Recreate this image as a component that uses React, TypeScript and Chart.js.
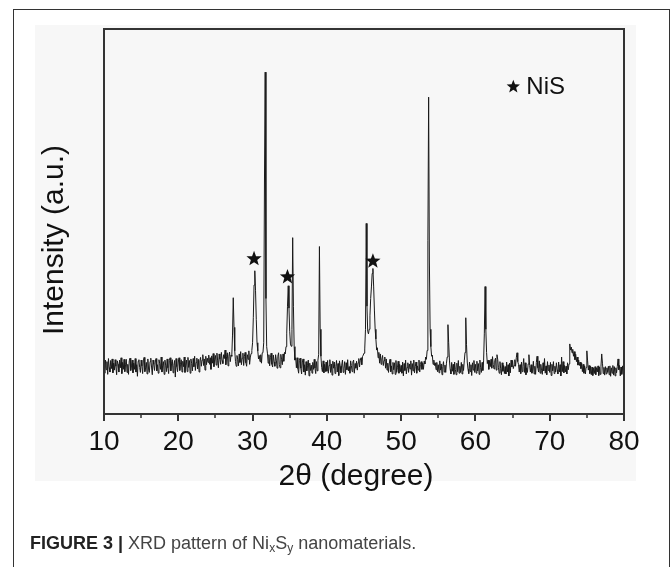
import React, { useEffect, useRef } from "react";
import { Chart, registerables } from "chart.js";

Chart.register(...registerables);

// ---- data ----
const ANGLE_START = 10; // degrees, first row
const ANGLE_STEP = 0.1; // degrees between readings in a row
// one row per degree (10.0–10.9, 11.0–11.9, ...), intensity in arbitrary units
const intensityRows: number[][] = [
  [12.6, 10.6, 14.0, 11.5, 13.6, 10.3, 14.4, 12.1, 10.9, 13.9], // 10
  [11.8, 14.3, 10.7, 13.2, 11.4, 14.1, 12.4, 10.2, 13.8, 12.9], // 11
  [10.9, 14.0, 12.0, 14.6, 10.5, 13.4, 11.6, 14.2, 11.0, 12.8], // 12
  [14.2, 10.8, 12.9, 10.3, 13.8, 14.5, 11.3, 12.5, 14.0, 10.7], // 13
  [13.2, 11.6, 14.4, 10.9, 12.8, 9.8, 13.7, 14.1, 12.1, 10.8], // 14
  [14.0, 12.5, 10.5, 13.8, 14.7, 11.0, 12.0, 13.4, 10.4, 14.3], // 15
  [11.7, 10.8, 13.6, 14.5, 12.2, 10.2, 14.0, 12.9, 11.3, 13.5], // 16
  [14.4, 11.2, 12.8, 10.6, 14.1, 13.1, 11.6, 14.8, 10.9, 12.6], // 17
  [13.6, 10.3, 14.0, 12.7, 11.0, 14.3, 12.0, 10.5, 13.9, 14.6], // 18
  [11.2, 13.2, 14.1, 10.7, 12.6, 13.9, 9.6, 14.4, 12.3, 11.0], // 19
  [13.5, 14.6, 11.3, 12.9, 14.1, 10.9, 13.7, 12.3, 14.8, 10.8], // 20
  [12.7, 14.0, 11.0, 14.7, 12.1, 13.9, 10.6, 14.3, 13.1, 11.2], // 21
  [14.4, 12.3, 15.0, 11.3, 13.4, 14.5, 11.7, 14.2, 10.9, 13.8], // 22
  [14.7, 12.4, 14.0, 15.4, 12.6, 14.3, 11.4, 15.0, 12.8, 14.5], // 23
  [13.4, 15.3, 12.9, 14.6, 11.6, 15.1, 13.2, 15.7, 12.3, 14.2], // 24
  [15.2, 12.7, 15.8, 13.8, 12.0, 15.6, 14.3, 12.9, 16.0, 13.9], // 25
  [13.1, 15.4, 14.4, 16.6, 12.8, 14.9, 15.9, 12.5, 15.0, 16.1], // 26
  [13.6, 15.3, 15.0, 20.5, 30.2, 22.5, 16.4, 13.6, 12.4, 15.2], // 27
  [14.2, 12.5, 15.6, 13.4, 16.2, 12.8, 14.5, 15.8, 12.6, 15.0], // 28
  [16.0, 13.3, 12.4, 15.4, 14.2, 16.4, 12.9, 14.8, 15.7, 16.5], // 29
  [18.5, 25.0, 33.5, 37.2, 32.0, 24.5, 18.5, 16.4, 14.3, 15.2], // 30
  [13.6, 15.4, 13.2, 15.9, 16.0, 18.5, 60.0, 88.8, 30.0, 17.5], // 31
  [15.8, 13.2, 15.4, 12.5, 14.6, 15.8, 12.9, 12.2, 15.3, 13.5], // 32
  [12.4, 15.4, 14.0, 11.9, 15.0, 15.9, 12.9, 12.0, 15.5, 14.2], // 33
  [12.8, 15.6, 13.7, 16.0, 15.6, 17.5, 21.0, 28.0, 33.3, 27.5], // 34
  [21.5, 18.2, 17.6, 22.0, 45.8, 28.0, 17.5, 14.0, 14.6, 12.0], // 35
  [14.6, 11.8, 10.6, 13.9, 14.5, 11.9, 10.4, 13.5, 14.3, 10.9], // 36
  [12.8, 10.1, 13.6, 11.2, 12.6, 14.0, 9.9, 13.2, 11.3, 12.7], // 37
  [10.6, 13.4, 11.6, 14.2, 11.9, 10.5, 13.6, 11.2, 14.0, 15.5], // 38
  [43.5, 22.0, 15.0, 12.1, 11.0, 13.8, 10.7, 12.9, 11.0, 13.5], // 39
  [11.1, 13.9, 10.6, 12.6, 14.1, 10.8, 13.0, 10.1, 13.7, 11.9], // 40
  [13.5, 10.5, 12.3, 13.9, 10.9, 13.1, 10.0, 13.8, 12.4, 10.7], // 41
  [12.7, 14.0, 10.8, 11.9, 13.6, 10.3, 13.3, 11.5, 14.1, 11.2], // 42
  [12.3, 10.6, 13.8, 12.6, 11.0, 13.5, 14.0, 10.6, 13.1, 11.9], // 43
  [13.7, 11.4, 13.3, 14.4, 12.2, 14.0, 14.6, 12.8, 14.9, 15.3], // 44
  [15.8, 16.9, 22.0, 49.5, 28.0, 21.5, 20.8, 22.0, 25.5, 30.0], // 45
  [33.0, 36.5, 37.8, 33.0, 27.0, 22.0, 19.5, 16.6, 17.2, 14.6], // 46
  [16.0, 13.2, 15.6, 12.9, 14.3, 15.2, 12.6, 13.9, 14.8, 11.9], // 47
  [14.3, 11.4, 13.2, 10.8, 13.0, 14.2, 11.0, 12.5, 10.4, 13.4], // 48
  [11.5, 13.3, 10.3, 13.9, 10.8, 12.0, 13.7, 10.6, 12.9, 11.0], // 49
  [12.6, 10.6, 13.5, 9.9, 13.1, 11.3, 14.0, 10.4, 12.1, 13.3], // 50
  [10.8, 13.0, 11.7, 13.8, 10.1, 13.1, 11.2, 14.0, 10.7, 12.3], // 51
  [13.5, 10.6, 12.5, 11.4, 14.0, 10.9, 12.9, 13.6, 11.6, 13.2], // 52
  [11.6, 13.7, 13.0, 14.8, 14.2, 16.5, 45.0, 82.3, 40.0, 22.0], // 53
  [17.5, 15.0, 15.3, 12.9, 14.0, 12.6, 13.3, 11.5, 13.4, 11.0], // 54
  [12.8, 10.7, 13.8, 11.4, 13.0, 10.2, 12.3, 13.6, 10.9, 12.7], // 55
  [10.8, 13.2, 14.8, 23.2, 18.5, 14.0, 11.6, 10.4, 13.4, 11.1], // 56
  [12.9, 10.3, 13.5, 11.6, 10.2, 13.2, 11.0, 13.9, 10.6, 12.4], // 57
  [10.8, 13.4, 10.4, 12.9, 11.3, 13.8, 16.0, 25.0, 18.0, 13.5], // 58
  [11.6, 10.5, 13.5, 11.0, 12.8, 10.0, 13.3, 11.4, 13.9, 10.8], // 59
  [12.9, 10.6, 13.7, 11.2, 13.1, 10.3, 14.0, 12.1, 10.8, 13.4], // 60
  [11.3, 13.8, 21.0, 33.1, 22.0, 16.0, 13.1, 14.0, 11.6, 13.9], // 61
  [12.3, 14.2, 11.9, 14.9, 12.8, 11.7, 13.9, 14.5, 11.4, 15.4], // 62
  [14.2, 12.0, 10.6, 13.6, 11.8, 10.2, 13.3, 11.1, 12.6, 10.5], // 63
  [12.3, 10.4, 13.5, 10.9, 12.8, 9.9, 13.2, 10.7, 14.0, 12.2], // 64
  [13.9, 11.8, 12.6, 14.1, 12.4, 14.6, 15.9, 13.6, 12.9, 10.9], // 65
  [12.8, 10.5, 13.5, 11.0, 12.4, 14.4, 10.8, 13.3, 10.2, 12.0], // 66
  [10.8, 13.0, 15.4, 12.6, 10.9, 12.8, 10.6, 11.4, 13.7, 10.4], // 67
  [12.4, 10.3, 13.4, 15.0, 12.0, 10.9, 13.8, 10.6, 12.9, 11.3], // 68
  [10.3, 13.3, 11.2, 14.4, 10.6, 12.5, 10.2, 13.6, 11.3, 12.7], // 69
  [10.8, 13.4, 10.0, 12.9, 11.2, 13.6, 10.5, 12.4, 10.9, 13.3], // 70
  [11.5, 10.4, 13.5, 10.9, 12.8, 9.9, 14.8, 11.0, 13.6, 10.7], // 71
  [12.6, 10.9, 12.4, 10.4, 13.3, 11.5, 13.0, 18.2, 16.6, 17.4], // 72
  [15.9, 16.8, 15.0, 16.2, 14.1, 15.5, 13.6, 14.8, 12.7, 14.0], // 73
  [12.6, 13.5, 11.8, 13.2, 11.0, 12.9, 10.6, 12.5, 10.4, 12.1], // 74
  [16.4, 13.8, 11.4, 12.6, 10.5, 12.4, 10.2, 12.2, 10.0, 11.9], // 75
  [10.5, 12.3, 10.2, 12.0, 10.9, 12.5, 10.0, 12.2, 10.3, 12.4], // 76
  [15.6, 13.2, 10.5, 12.1, 10.1, 12.3, 10.4, 12.0, 10.8, 12.4], // 77
  [10.2, 12.5, 9.8, 12.0, 10.6, 12.6, 10.1, 12.3, 9.9, 12.0], // 78
  [10.7, 12.4, 14.3, 11.5, 12.6, 9.9, 12.2, 10.3, 12.5, 10.6], // 79
  [11.2], // 80
];

const xMin = 10;
const xMax = 80;
const yMin = 0;
const yMax = 100;
const xTicks = [10, 20, 30, 40, 50, 60, 70, 80];
const xMinorTicks = [15, 25, 35, 45, 55, 65, 75];

// NiS reflections marked with stars (angle, marker height)
const nisAngles = [30.2, 34.7, 46.2];
const nisMarkHeights = [40.3, 35.6, 39.7];

const legendLabel = "NiS";
const legendAngle = 65.1;
const legendHeight = 85;

const xTitle = "2θ (degree)";
const yTitle = "Intensity (a.u.)";

const FONT = "'Liberation Sans', Arial, Helvetica, sans-serif";

function drawStar(ctx: CanvasRenderingContext2D, cx: number, cy: number, R: number) {
  const r = R * 0.42;
  ctx.beginPath();
  for (let i = 0; i < 10; i++) {
    const a = -Math.PI / 2 + (i * Math.PI) / 5;
    const rad = i % 2 === 0 ? R : r;
    const px = cx + rad * Math.cos(a);
    const py = cy + rad * Math.sin(a);
    if (i === 0) ctx.moveTo(px, py);
    else ctx.lineTo(px, py);
  }
  ctx.closePath();
  ctx.fill();
}

export default function App() {
  const ref = useRef<HTMLCanvasElement>(null);

  useEffect(() => {
    const canvas = ref.current;
    if (!canvas) return;

    const points: { x: number; y: number }[] = [];
    intensityRows.forEach((row, r) => {
      row.forEach((v, j) => {
        points.push({ x: Math.round((ANGLE_START + r + j * ANGLE_STEP) * 10) / 10, y: v });
      });
    });

    const deco = {
      id: "deco",
      beforeDraw(chart: any) {
        const ctx = chart.ctx as CanvasRenderingContext2D;
        ctx.save();
        ctx.fillStyle = "#f7f7f7";
        ctx.fillRect(0, 0, 601, 456);
        ctx.restore();
      },
      afterDraw(chart: any) {
        const ctx = chart.ctx as CanvasRenderingContext2D;
        const { left, right, top, bottom } = chart.chartArea;
        const xs = chart.scales.x;
        const ys = chart.scales.y;
        ctx.save();
        // frame
        ctx.strokeStyle = "#333";
        ctx.lineWidth = 2;
        ctx.strokeRect(left, top, right - left, bottom - top);
        // minor ticks
        ctx.lineWidth = 1.5;
        ctx.beginPath();
        xMinorTicks.forEach((v) => {
          const px = Math.round(xs.getPixelForValue(v));
          ctx.moveTo(px, bottom);
          ctx.lineTo(px, bottom + 4);
        });
        ctx.stroke();
        // stars
        ctx.fillStyle = "#111";
        nisAngles.forEach((a, i) => {
          drawStar(ctx, xs.getPixelForValue(a), ys.getPixelForValue(nisMarkHeights[i]), 8);
        });
        // legend
        const lx = xs.getPixelForValue(legendAngle);
        const ly = ys.getPixelForValue(legendHeight);
        drawStar(ctx, lx, ly, 7);
        ctx.font = `24px ${FONT}`;
        ctx.textAlign = "left";
        ctx.textBaseline = "middle";
        ctx.fillText(legendLabel, lx + 13, ly + 1);
        // x title (centred slightly left of the plot centre, as in the figure)
        ctx.font = `30px ${FONT}`;
        ctx.textAlign = "center";
        ctx.textBaseline = "middle";
        ctx.fillStyle = "#111";
        ctx.fillText(xTitle, (left + right) / 2 - 8, 452);
        // y title
        ctx.translate(20, 215);
        ctx.rotate(-Math.PI / 2);
        ctx.fillText(yTitle, 0, 0);
        ctx.restore();
      },
    };

    const chart = new Chart(canvas, {
      type: "line",
      data: {
        datasets: [
          {
            data: points,
            borderColor: "#1a1a1a",
            borderWidth: 1,
            pointRadius: 0,
            tension: 0,
            fill: false,
          },
        ],
      },
      options: {
        responsive: false,
        animation: false,
        devicePixelRatio: 1,
        layout: { padding: { left: 69, right: 32, top: 4, bottom: 0 } },
        plugins: { legend: { display: false }, tooltip: { enabled: false } },
        scales: {
          x: {
            type: "linear",
            min: xMin,
            max: xMax,
            afterFit: (s: any) => {
              s.height = 85;
            },
            afterBuildTicks: (s: any) => {
              s.ticks = xTicks.map((v) => ({ value: v }));
            },
            ticks: {
              font: { family: FONT, size: 28 },
              color: "#111",
              padding: 4,
              maxRotation: 0,
              autoSkip: false,
            },
            grid: {
              display: true,
              drawOnChartArea: false,
              drawTicks: true,
              tickLength: 7,
              lineWidth: 2,
              color: "#333",
            },
            border: { display: false },
            title: { display: false },
          },
          y: { display: false, min: yMin, max: yMax },
        },
      },
      plugins: [deco],
    } as any);

    return () => chart.destroy();
  }, []);

  return (
    <div>
      <div
        style={{
          position: "fixed",
          left: 13,
          top: 9,
          width: 657,
          height: 600,
          border: "1px solid #333",
          boxSizing: "border-box",
        }}
      />
      <canvas
        ref={ref}
        width={621}
        height={474}
        style={{ position: "fixed", left: 35, top: 25, width: 621, height: 474 }}
      />
      <div
        style={{
          position: "fixed",
          left: 30,
          top: 533,
          fontFamily: FONT,
          fontSize: 18,
          lineHeight: "20px",
          color: "#444",
          whiteSpace: "nowrap",
        }}
      >
        <span style={{ fontWeight: "bold", color: "#222" }}>FIGURE 3 | </span>
        XRD pattern of Ni
        <span style={{ fontSize: 12, verticalAlign: "-3px", lineHeight: 0 }}>x</span>S
        <span style={{ fontSize: 12, verticalAlign: "-3px", lineHeight: 0 }}>y</span> nanomaterials.
      </div>
    </div>
  );
}
